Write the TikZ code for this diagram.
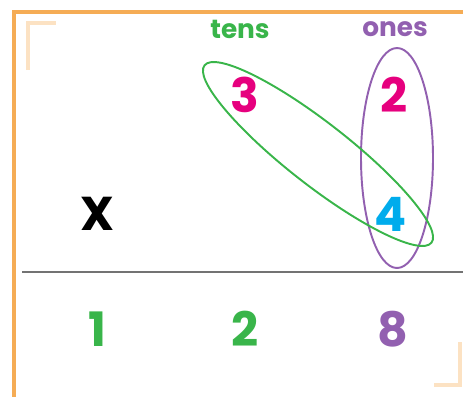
\documentclass[tikz,border=0pt]{standalone}
\usepackage{fontspec}
\setmainfont{Poppins}
\definecolor{framec}{RGB}{245,172,85}
\definecolor{cornerc}{RGB}{252,226,195}
\definecolor{tensc}{RGB}{57,181,74}
\definecolor{onesc}{RGB}{146,96,176}
\definecolor{digitm}{RGB}{230,0,126}
\definecolor{digitc}{RGB}{0,172,236}
\tikzset{
  digit/.style={font=\fontsize{27}{27}\selectfont\bfseries},
  head/.style={font=\fontsize{15}{15}\selectfont\bfseries},
  loop/.style={line width=1.1pt}
}
\begin{document}
\begin{tikzpicture}[x=.02cm,y=-.02cm]
\useasboundingbox (0,0) rectangle (463,396);
% frame and corner marks
\draw[framec,line width=2.2pt] (14,400)--(14,12)--(470,12);
\draw[cornerc,line width=2.2pt] (28,70)--(28,23)--(56,23);
\draw[cornerc,line width=2.2pt] (460,342)--(460,385)--(434,385);
% column heads
\node[head,text=tensc] (tens) at (240,29){tens};
\node[head,text=onesc] (ones) at (395,29){ones};
% factors
\node[digit,text=digitm] (t3) at (245,95){3};
\node[digit,text=digitm] (o2) at (394,95){2};
\node[digit] (times) at (97,214){X};
\node[digit,text=digitc] (o4) at (391,214){4};
% rule and product
\draw[gray!90!black,line width=1pt] (22,272)--(463,272);
\node[digit,text=tensc] (p1) at (97,329){1};
\node[digit,text=tensc] (p2) at (245,329){2};
\node[digit,text=onesc] (p8) at (393,329){8};
% loops
\draw[loop,onesc] (397,158) ellipse [x radius=36,y radius=110];
\draw[loop,tensc,rotate around={-38:(318,154)}] (318,154) ellipse [x radius=144,y radius=31];
\end{tikzpicture}
\end{document}
